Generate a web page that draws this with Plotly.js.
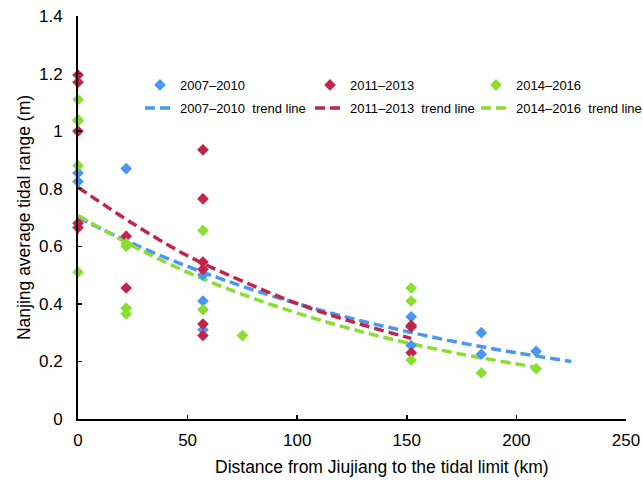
<!DOCTYPE html>
<html>
<head>
<meta charset="utf-8">
<script src="https://cdn.plot.ly/plotly-3.0.1.min.js"></script>
<style>html,body{margin:0;padding:0;background:#fff;}#chart{width:643px;height:485px;}</style>
</head>
<body>
<div id="chart"></div>
<script>
// Observed points (distance km, tidal range m)
const x0710 = [0, 0, 22, 57, 57, 57, 152, 152, 184, 184, 209];
const y0710 = [0.855, 0.825, 0.87, 0.50, 0.41, 0.31, 0.355, 0.255, 0.30, 0.225, 0.235];

const x1113 = [0, 0, 0, 0, 0, 22, 22, 57, 57, 57, 57, 57, 57, 152, 152, 152];
const y1113 = [1.195, 1.17, 1.00, 0.68, 0.665, 0.635, 0.455, 0.935, 0.765, 0.545, 0.52, 0.33, 0.29, 0.325, 0.32, 0.23];

const x1416 = [0, 0, 0, 0, 0, 22, 22, 22, 22, 57, 57, 75, 152, 152, 152, 184, 209];
const y1416 = [1.11, 1.04, 1.035, 0.88, 0.51, 0.61, 0.60, 0.385, 0.365, 0.655, 0.38, 0.29, 0.455, 0.41, 0.205, 0.16, 0.175];

// Trend lines, values
const tx0710 = [0, 25, 50, 75, 100, 125, 150, 175, 200, 225];
const ty0710 = [0.70, 0.609, 0.530, 0.461, 0.401, 0.349, 0.304, 0.264, 0.230, 0.200];
const tx1113 = [0, 25, 50, 75, 100, 125, 152];
const ty1113 = [0.805, 0.679, 0.567, 0.479, 0.401, 0.338, 0.280];
const tx1416 = [0, 25, 50, 75, 100, 125, 150, 175, 209];
const ty1416 = [0.707, 0.601, 0.510, 0.433, 0.368, 0.312, 0.265, 0.225, 0.180];

const names = ['2007\u20132010', '2011\u20132013', '2014\u20132016'];
const trendNames = ['2007\u20132010  trend line', '2011\u20132013  trend line', '2014\u20132016  trend line'];
const xTitle = 'Distance from Jiujiang to the tidal limit (km)';
const yTitle = 'Nanjing average tidal range (m)';

const cBlue = '#4a97f0', cRed = '#c2244b', cGreen = '#8ade32';

function pts(x, y, name, color, lg) {
  return {x: x, y: y, name: name, type: 'scatter', mode: 'markers', legend: lg,
    marker: {symbol: 'diamond', size: 9, color: color}, cliponaxis: false};
}
function trend(x, y, name, color, lg) {
  return {x: x, y: y, name: name, type: 'scatter', mode: 'lines', legend: lg,
    line: {color: color, width: 3.5, dash: '10px,5px', shape: 'spline'}};
}

const data = [
  trend(tx0710, ty0710, trendNames[0], cBlue, 'legend4'),
  trend(tx1113, ty1113, trendNames[1], cRed, 'legend5'),
  trend(tx1416, ty1416, trendNames[2], cGreen, 'legend6'),
  pts(x0710, y0710, names[0], cBlue, 'legend'),
  pts(x1113, y1113, names[1], cRed, 'legend2'),
  pts(x1416, y1416, names[2], cGreen, 'legend3')
];

const font = {family: 'Liberation Sans, Arial, sans-serif', color: '#000'};

function leg(x, y) {
  return {
    orientation: 'v', x: x, xanchor: 'left', y: y, yanchor: 'top',
    font: Object.assign({}, font, {size: 13}),
    bgcolor: 'rgba(0,0,0,0)'
  };
}
const row1 = 0.866, row2 = 0.809;

const layout = {
  width: 643, height: 485,
  margin: {l: 78, r: 17, t: 16, b: 66, autoexpand: false},
  paper_bgcolor: '#fff', plot_bgcolor: '#fff',
  font: Object.assign({}, font, {size: 17}),
  showlegend: true,
  legend: leg(0.1131, row1),
  legend2: leg(0.4234, row1),
  legend3: leg(0.7263, row1),
  legend4: leg(0.1131, row2),
  legend5: leg(0.4234, row2),
  legend6: leg(0.7263, row2),
  xaxis: {
    range: [0, 250], tickvals: [0, 50, 100, 150, 200, 250],
    showgrid: false, zeroline: false, showline: true, linecolor: '#000', linewidth: 2,
    ticks: 'inside', ticklen: 4, tickwidth: 1.5, tickcolor: '#000',
    ticklabelstandoff: 5,
    tickfont: Object.assign({}, font, {size: 17}),
    automargin: false
  },
  yaxis: {
    range: [0, 1.4], tickvals: [0, 0.2, 0.4, 0.6, 0.8, 1, 1.2, 1.4],
    ticktext: ['0', '0.2', '0.4', '0.6', '0.8', '1', '1.2', '1.4'],
    showgrid: false, zeroline: false, showline: true, linecolor: '#000', linewidth: 2,
    ticks: 'inside', ticklen: 4, tickwidth: 1.5, tickcolor: '#000',
    ticklabelstandoff: 10,
    tickfont: Object.assign({}, font, {size: 17}),
    title: {text: yTitle, standoff: 4, font: Object.assign({}, font, {size: 17.5})},
    automargin: false
  },
  annotations: [{
    text: xTitle, xref: 'paper', yref: 'paper', x: 0.555, y: -0.119,
    xanchor: 'center', yanchor: 'middle', showarrow: false,
    font: Object.assign({}, font, {size: 17.5})
  }]
};

Plotly.newPlot('chart', data, layout, {displayModeBar: false, staticPlot: true});
</script>
</body>
</html>
